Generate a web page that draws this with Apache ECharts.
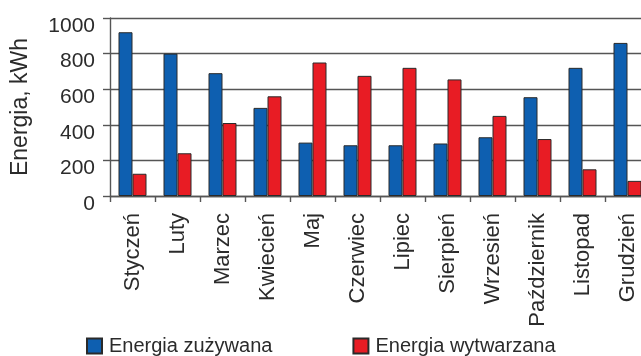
<!DOCTYPE html>
<html>
<head>
<meta charset="utf-8">
<script src="https://cdn.jsdelivr.net/npm/echarts@6/dist/echarts.min.js"></script>
<style>
  html, body { margin: 0; padding: 0; background: #fff; }
  #chart { width: 641px; height: 356px; }
</style>
</head>
<body>
<div id="chart"></div>
<script>
// Monthly energy balance (kWh)
const months = ['Styczeń', 'Luty', 'Marzec', 'Kwiecień', 'Maj', 'Czerwiec',
  'Lipiec', 'Sierpień', 'Wrzesień', 'Październik', 'Listopad', 'Grudzień'];
const consumed = [920, 800, 690, 495, 300, 285, 285, 295, 330, 555, 720, 860];
const produced = [125, 240, 410, 560, 750, 675, 720, 655, 450, 320, 150, 85];
const seriesNames = ['Energia zużywana', 'Energia wytwarzana'];
const yTicks = { min: 0, max: 1000, step: 200 };
const yTitle = 'Energia, kWh';

const FONT = 'Liberation Sans, Arial, sans-serif';
const TEXT = '#2b2b2b';
const GRID_LINE = '#555555';

const chart = echarts.init(document.getElementById('chart'), null, { renderer: 'canvas' });

chart.setOption({
  animation: false,
  backgroundColor: '#ffffff',
  textStyle: { fontFamily: FONT },
  // the plot runs past the right edge of the canvas, so keep the grid unclamped
  grid: { left: 110, top: 18, width: 540, height: 178, containLabel: false, outerBoundsMode: 'none' },
  legend: {
    left: 86,
    top: 336,
    padding: 0,
    icon: 'rect',
    itemWidth: 15,
    itemHeight: 15,
    itemGap: 80,
    textStyle: { fontSize: 20, color: TEXT, fontFamily: FONT, padding: [0, 0, 0, 2] },
    data: seriesNames
  },
  xAxis: {
    type: 'category',
    data: months,
    axisLine: { show: true, lineStyle: { color: GRID_LINE, width: 1.4 } },
    axisTick: { show: true, length: 6, lineStyle: { color: GRID_LINE, width: 1.4 } },
    axisLabel: {
      rotate: 90,
      interval: 0,
      margin: 17,
      fontSize: 22,
      color: TEXT,
      fontFamily: FONT
    },
    splitLine: { show: false }
  },
  yAxis: {
    type: 'value',
    min: yTicks.min,
    max: yTicks.max,
    interval: yTicks.step,
    name: yTitle,
    nameLocation: 'middle',
    nameRotate: 90,
    nameGap: 78,
    nameTextStyle: { fontSize: 23, color: TEXT, fontFamily: FONT },
    axisLine: { show: true, lineStyle: { color: GRID_LINE, width: 1.4 } },
    axisTick: { show: true, inside: false, length: 7, lineStyle: { color: GRID_LINE, width: 1.4 } },
    axisLabel: {
      margin: 15,
      color: TEXT,
      fontFamily: FONT,
      formatter: (v) => '{v|' + v + '}',
      rich: {
        v: { fontSize: 21, color: TEXT, fontFamily: FONT, padding: [16, 0, 0, 0] }
      }
    },
    splitLine: { show: true, lineStyle: { color: GRID_LINE, width: 1.4 } }
  },
  series: [
    {
      name: seriesNames[0],
      type: 'bar',
      data: consumed,
      barGap: '0%',
      barWidth: 14,
      itemStyle: { color: '#0e5fb0', borderColor: '#2a2a2a', borderWidth: 1 }
    },
    {
      name: seriesNames[1],
      type: 'bar',
      data: produced,
      barWidth: 14,
      itemStyle: { color: '#e81c24', borderColor: '#2a2a2a', borderWidth: 1 }
    }
  ]
});
</script>
</body>
</html>
